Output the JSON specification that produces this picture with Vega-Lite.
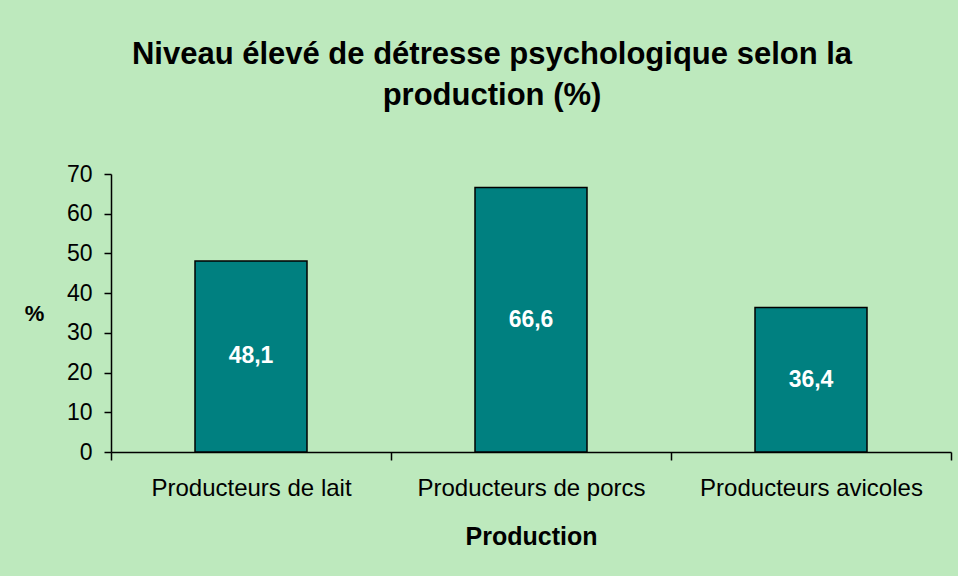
{
  "$schema": "https://vega.github.io/schema/vega-lite/v6.json",
  "width": 840,
  "height": 278,
  "autosize": {"type": "none"},
  "padding": {"left": 111, "top": 174, "right": 7, "bottom": 124},
  "background": "#bde9bd",
  "title": {
    "text": ["Niveau élevé de détresse psychologique selon la", "production (%)"],
    "font": "Liberation Sans",
    "fontSize": 31,
    "fontWeight": "bold",
    "color": "#000000",
    "lineHeight": 41,
    "anchor": "middle",
    "frame": "group",
    "dx": -39,
    "offset": 51
  },
  "data": {
    "values": [
      {"production": "Producteurs de lait", "pct": 48.1},
      {"production": "Producteurs de porcs", "pct": 66.6},
      {"production": "Producteurs avicoles", "pct": 36.4}
    ]
  },
  "encoding": {
    "x": {
      "field": "production",
      "type": "nominal",
      "sort": null,
      "scale": {"paddingInner": 0, "paddingOuter": 0},
      "axis": {
        "title": "Production",
        "labelAngle": 0,
        "labelLimit": 0,
        "tickBand": "extent",
        "tickSize": 8,
        "labelPadding": 16,
        "labelFont": "Liberation Sans",
        "labelFontSize": 24,
        "labelColor": "#000000",
        "titleFont": "Liberation Sans",
        "titleFontSize": 25,
        "titleFontWeight": "bold",
        "titleColor": "#000000",
        "titlePadding": 24,
        "domainColor": "#000000",
        "tickColor": "#000000",
        "domainWidth": 1.5,
        "tickWidth": 1.5
      }
    }
  },
  "layer": [
    {
      "mark": {"type": "bar", "color": "#008080", "stroke": "#000000", "strokeWidth": 1.5, "width": {"band": 0.4}},
      "encoding": {
        "y": {
          "field": "pct",
          "type": "quantitative",
          "scale": {"domain": [0, 70], "nice": false},
          "axis": {
            "values": [0, 10, 20, 30, 40, 50, 60, 70],
            "labelOverlap": false,
            "grid": false,
            "title": "%",
            "titleAngle": 0,
            "titleAlign": "center",
            "titleBaseline": "middle",
            "titleX": -77,
            "titleY": 139,
            "titleFont": "Liberation Sans",
            "titleFontSize": 22,
            "titleFontWeight": "bold",
            "titleColor": "#000000",
            "labelFont": "Liberation Sans",
            "labelFontSize": 23,
            "labelColor": "#000000",
            "tickSize": 7,
            "labelPadding": 12,
            "domainColor": "#000000",
            "tickColor": "#000000",
            "domainWidth": 1.5,
            "tickWidth": 1.5
          }
        }
      }
    },
    {
      "transform": [{"calculate": "datum.pct / 2", "as": "mid"}],
      "mark": {"type": "text", "color": "#ffffff", "font": "Liberation Sans", "fontSize": 23, "fontWeight": "bold", "baseline": "middle", "align": "center"},
      "encoding": {
        "y": {
          "field": "mid",
          "type": "quantitative",
          "axis": {
            "values": [0, 10, 20, 30, 40, 50, 60, 70],
            "labelOverlap": false,
            "grid": false,
            "title": "%",
            "titleAngle": 0,
            "titleAlign": "center",
            "titleBaseline": "middle",
            "titleX": -77,
            "titleY": 139,
            "titleFont": "Liberation Sans",
            "titleFontSize": 22,
            "titleFontWeight": "bold",
            "titleColor": "#000000",
            "labelFont": "Liberation Sans",
            "labelFontSize": 23,
            "labelColor": "#000000",
            "tickSize": 7,
            "labelPadding": 12,
            "domainColor": "#000000",
            "tickColor": "#000000",
            "domainWidth": 1.5,
            "tickWidth": 1.5
          }
        },
        "text": {"field": "pct", "type": "quantitative", "format": ".1f"}
      }
    }
  ],
  "config": {
    "view": {"stroke": null},
    "locale": {"number": {"decimal": ",", "thousands": " ", "grouping": [3], "currency": ["", " €"]}}
  }
}
